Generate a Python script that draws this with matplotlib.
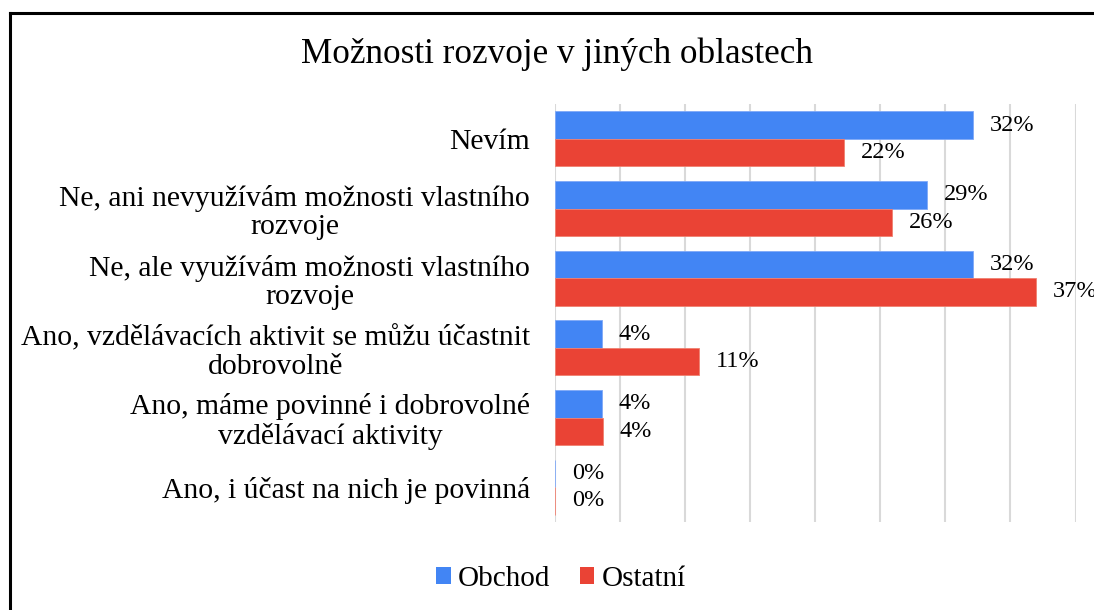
import numpy as np
import matplotlib
matplotlib.use('Agg')
import matplotlib.pyplot as plt
from matplotlib.lines import Line2D
from matplotlib.patches import Patch

plt.rcParams['font.family'] = ['Liberation Serif', 'DejaVu Serif']

categories = ['Nevím',
              'Ne, ani nevyužívám možnosti vlastního\nrozvoje',
              'Ne, ale využívám možnosti vlastního\nrozvoje',
              'Ano, vzdělávacích aktivit se můžu účastnit\ndobrovolně',
              'Ano, máme povinné i dobrovolné\nvzdělávací aktivity',
              'Ano, i účast na nich je povinná']
obchod = [32.1, 28.6, 32.1, 3.6, 3.6, 0.0]
ostatni = [22.2, 25.9, 37.0, 11.1, 3.7, 0.0]
series_names = ['Obchod', 'Ostatní']
colors = ['#4285F4', '#EA4335']

fig = plt.figure(figsize=(10.94, 6.10), dpi=100)
ax = fig.add_axes([555/1094, 1-522/610, 520.5/1094, 418/610])

y = np.arange(len(categories))
h = 0.395
b1 = ax.barh(y - h/2, obchod, height=h, color=colors[0], edgecolor='#7fa9f7', linewidth=0.6, zorder=3)
b2 = ax.barh(y + h/2, ostatni, height=h, color=colors[1], edgecolor='#f08070', linewidth=0.6, zorder=3)

for bars, vals in [(b1, obchod), (b2, ostatni)]:
    for bar, v in zip(bars, vals):
        ax.annotate(f'{v:.0f}%', (bar.get_width(), bar.get_y() + bar.get_height()/2),
                    xytext=(12, 0), textcoords='offset points', va='center', ha='left',
                    fontsize=17.5, annotation_clip=False)

ax.set_xlim(0, 40)
ax.set_ylim(len(categories) - 0.5, -0.5)
ax.set_xticks(np.arange(0, 41, 5))
ax.set_xticklabels([])
ax.tick_params(axis='x', length=0)
ax.tick_params(axis='y', length=0, pad=18)
ax.set_yticks(y)
ax.set_yticklabels(categories, fontsize=21.3)
for t in ax.get_yticklabels():
    t.set_multialignment('center')
    t.set_linespacing(1.12)
ax.grid(axis='x', color='#d9d9d9', linewidth=1.5, zorder=0)
for s in ax.spines.values():
    s.set_visible(False)

fig.text(557/1094, 1-54/610, 'Možnosti rozvoje v jiných oblastech', ha='center', va='center', fontsize=25.3)

handles = [Patch(facecolor=c, edgecolor='none') for c in colors]
fig.legend(handles, series_names, loc='center', bbox_to_anchor=(561/1094, 1-579/610), ncol=2,
           frameon=False, fontsize=21, handlelength=0.5, handleheight=0.5, handletextpad=0.25,
           columnspacing=1.0)

# outer frame (cropped on right and bottom)
fig.add_artist(Line2D([9.5/1094, 1.0], [1-12.5/610, 1-12.5/610], color='black', linewidth=2.2, transform=fig.transFigure))
fig.add_artist(Line2D([9.5/1094, 9.5/1094], [0.0, 1-12.5/610], color='black', linewidth=2.2, transform=fig.transFigure))

fig.savefig('out.png', dpi=100)
